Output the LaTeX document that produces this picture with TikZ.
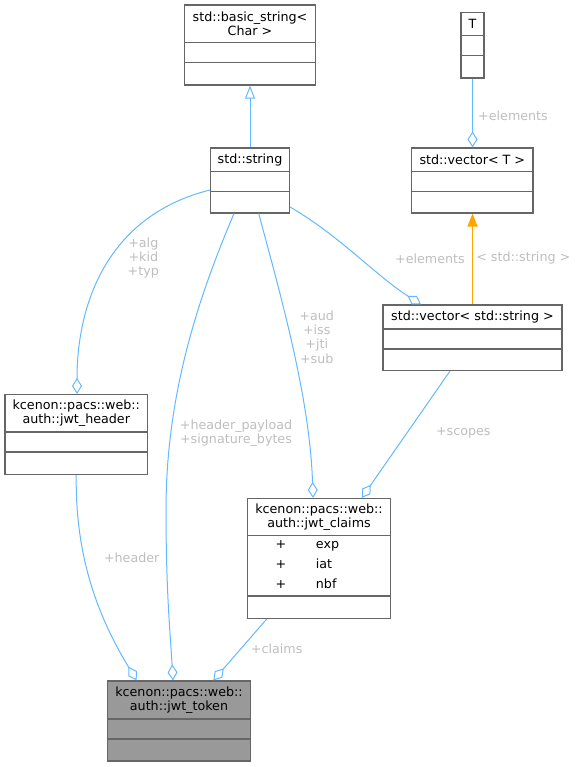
\documentclass[tikz,border=0pt]{standalone}
\usepackage{fontspec}
\setmainfont{DejaVu Sans}
\usepackage{tikz}
\usetikzlibrary{arrows.meta,fit,calc}
\definecolor{edgeblue}{HTML}{63B8FF}
\definecolor{boxline}{HTML}{666666}
\definecolor{tokfill}{HTML}{999999}
\definecolor{labgray}{HTML}{BEBEBE}
\definecolor{inhorange}{HTML}{FFA500}

\begin{document}
\begin{tikzpicture}[x=1pt, y=-1pt,
    cls/.style={draw=boxline, line width=1.1pt, inner sep=0pt},
    sepline/.style={draw=boxline, line width=1.1pt},
    ttl/.style={inner sep=0pt, align=center, font=\fontsize{12.7}{14.3}\selectfont},
    attr/.style={ttl, text height=9.5pt, text depth=3pt},
    elab/.style={inner sep=0pt, align=center, text=labgray, font=\fontsize{12.7}{14.4}\selectfont},
    uses/.style={draw=edgeblue, line width=1pt, -{Diamond[open, length=16pt, width=10pt]}},
    inherit/.style={draw=edgeblue, line width=1pt, -{Triangle[open, length=13pt, width=10pt]}},
    templ/.style={draw=inhorange, line width=1.2pt, -{Triangle[length=13pt, width=10pt]}}]
\useasboundingbox (0,0) rectangle (578,767);
% class boxes: name/left/top/right/bottom/first sep/second sep/fill
\foreach \n/\l/\t/\r/\b/\sa/\sb/\f in {bstr/184.5/5/315.5/85/42.5/62.5/white,
    tT/461/12.5/484/78/35.5/55.5/white, str/210.5/148/289.5/213/171.5/191.5/white,
    vecT/411.5/148/533/213/171.5/191.5/white, vecS/383/305/562/370.5/329/349/white,
    hdr/5/394.5/147.5/474.5/432/452/white, clm/247.5/498.5/390.5/618.5/535.5/596/white,
    tok/107.5/681/250.5/761/719/739/tokfill}{
  \node[cls, fill=\f, fit={(\l,\t) (\r,\b)}] (\n) {};
  \draw[sepline] (\l,\sa) -- (\r,\sa) (\l,\sb) -- (\r,\sb);
}
\node[ttl] (bstrT) at (250,23.7) {std::basic\_string<\\Char >};
\node[ttl] (tTT) at (472.5,24) {T};
\node[ttl] (strT) at (250,159.8) {std::string};
\node[ttl] (vecTT) at (472.3,159.8) {std::vector< T >};
\node[ttl] (vecST) at (472.5,317) {std::vector< std::string >};
\node[ttl] (hdrT) at (76.3,413.3) {kcenon::pacs::web::\\auth::jwt\_header};
\node[ttl] (clmT) at (319,517) {kcenon::pacs::web::\\auth::jwt\_claims};
\node[ttl] (tokT) at (179,700) {kcenon::pacs::web::\\auth::jwt\_token};
\foreach \i/\a/\y in {1/exp/545, 2/iat/565, 3/nbf/585}{
  \node[attr] (clmP\i) at (281,\y) {+};
  \node[attr, anchor=west] (clmA\i) at (315.7,\y) {\a};
}

% connectors
\draw[inherit] (str.north) -- (bstr.south);
\draw[uses] (tT.south) -- (tT.south |- vecT.north);
\draw[templ] (vecS.north -| tT.south) -- (vecT.south -| tT.south);
\draw[uses] (str.east |- 0,207) .. controls (340,236) and (375,275) .. (vecS.north -| 421,0);
\draw[uses] (str.west |- 0,190) .. controls (110,215) and (77,300) .. (hdr.north -| 77,0);
\draw[uses] (str.south -| 234,0) .. controls (195,305) and (166,400) .. (166,510)
  .. controls (166,590) and (170,630) .. (tok.north -| 173,0);
\draw[uses] (str.south -| 258.7,0) .. controls (282,300) and (310,400) .. (clm.north -| 313,0);
\draw[uses] (vecS.south -| 450,0) -- (clm.north -| 361.7,0);
\draw[uses] (hdr.south) .. controls (75,560) and (100,620) .. (tok.north -| 136.7,0);
\draw[uses] (clm.south -| 266.7,0) -- (tok.north -| 213.3,0);

% edge labels
\node[elab, anchor=west] (lElemT) at (478,115.7) {+elements};
\node[elab] (lTmpl) at (523.3,258.3) {< std::string >};
\node[elab] (lElemS) at (430,258.3) {+elements};
\node[elab] (lHdr) at (143.3,258) {+alg\\+kid\\+typ};
\node[elab] (lAud) at (316.7,337) {+aud\\+iss\\+jti\\+sub};
\node[elab] (lPay) at (236,433.3) {+header\_payload\\+signature\_bytes};
\node[elab] (lScp) at (463.3,433.3) {+scopes};
\node[elab] (lHead) at (131.7,557.3) {+header};
\node[elab] (lClm) at (276.7,648.3) {+claims};
\end{tikzpicture}
\end{document}
